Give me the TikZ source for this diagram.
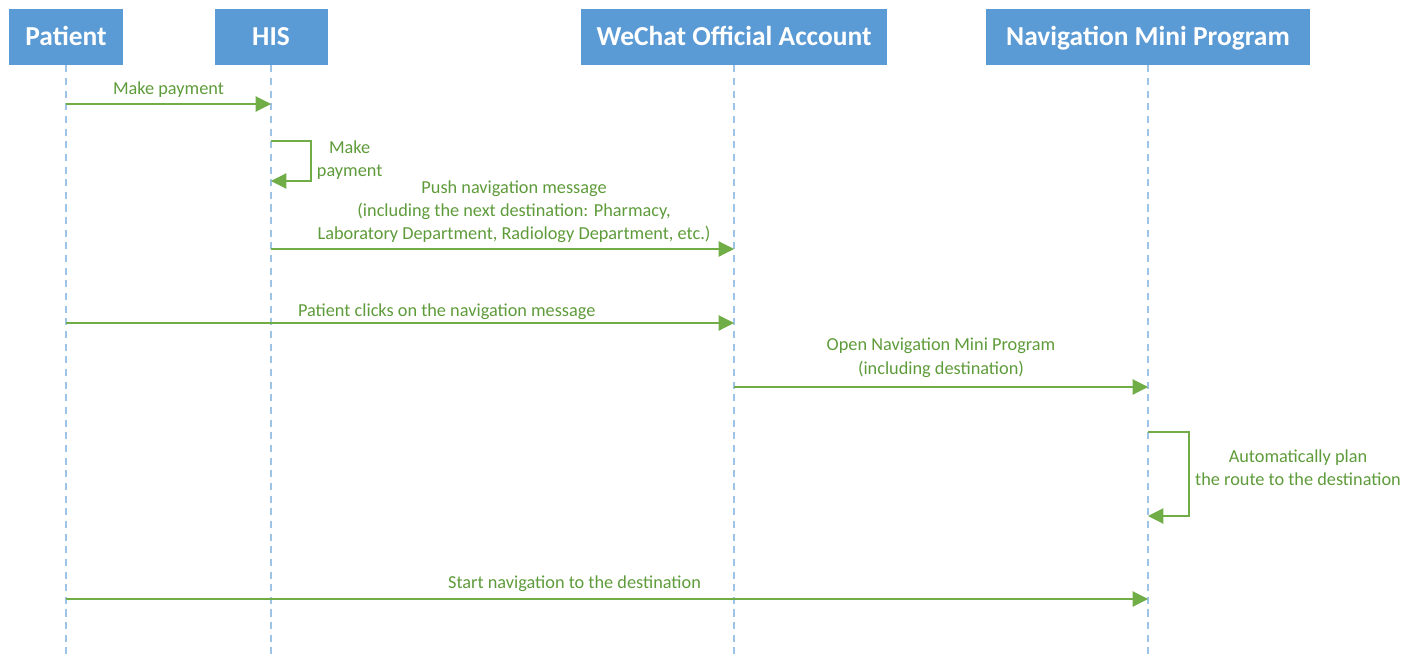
\documentclass[tikz,border=0pt]{standalone}
\usepackage{fontspec}
\setmainfont{Carlito}
\usepackage{tikz}
\usetikzlibrary{positioning,arrows.meta,calc}
\definecolor{headblue}{HTML}{5B9BD5}
\definecolor{lifeblue}{HTML}{9DC3E6}
\definecolor{msggreen}{HTML}{70AD47}
\definecolor{txtgreen}{HTML}{5E9B3A}
\tikzset{
    actor/.style={rectangle, fill=headblue, text=white, font=\bfseries\fontsize{19.5}{22}\selectfont, inner sep=0pt, minimum height=56*0.025cm, text height=13pt, text depth=0.7pt},
    life/.style={dashed, dash pattern=on 5pt off 4pt, lifeblue, line width=0.8pt},
    msg/.style={-{Triangle[length=11pt,width=11pt]}, msggreen, line width=0.8pt},
    lbl/.style={text=txtgreen, font=\fontsize{13}{16.5}\selectfont, align=center, inner sep=0pt},
}
\begin{document}
\begin{tikzpicture}
        [x=0.025cm, y=-0.025cm]
        \useasboundingbox (0,0) rectangle (1416,659);

        % actors
        \node[actor, minimum width=114*0.025cm] (patient) at (66,37) {Patient};
        \node[actor, minimum width=113*0.025cm] (his) at (271,37) {HIS};
        \node[actor, minimum width=306*0.025cm] (wechat) at (734,37) {WeChat Official Account};
        \node[actor, minimum width=324*0.025cm] (nav) at (1148,37) {Navigation Mini Program};

        % lifelines
        \foreach \a in {patient,his,wechat,nav}
            \draw[life] (\a.south) -- (\a.south |- 0,659);

        % messages
        \draw[msg] (patient.south |- 0,104) -- (his.south |- 0,104)
            node[lbl, midway, above=4pt] {Make payment};

        \draw[msg] (his.south |- 0,141) -| (311,181) -- (his.south |- 0,181);
        \node[lbl, right=4pt] at (311,160) {Make\\payment};

        \draw[msg] (his.south |- 0,249) -- (wechat.south |- 0,249)
            node[lbl, pos=0.525, above=4pt] {Push navigation message\\(including the next destination: Pharmacy,\\Laboratory Department, Radiology Department, etc.)};

        \draw[msg] (patient.south |- 0,323) -- (wechat.south |- 0,323)
            node[lbl, pos=0.57, above=2pt] {Patient clicks on the navigation message};

        \draw[msg] (wechat.south |- 0,387) -- (nav.south |- 0,387)
            node[lbl, midway, above=6.5pt] {Open Navigation Mini Program\\(including destination)};

        \draw[msg] (nav.south |- 0,432) -| (1189,516) -- (nav.south |- 0,516);
        \node[lbl] at (1298,468) {Automatically plan\\the route to the destination};

        \draw[msg] (patient.south |- 0,599) -- (nav.south |- 0,599)
            node[lbl, pos=0.47, above=5pt] {Start navigation to the destination};

    \end{tikzpicture}
\end{document}
